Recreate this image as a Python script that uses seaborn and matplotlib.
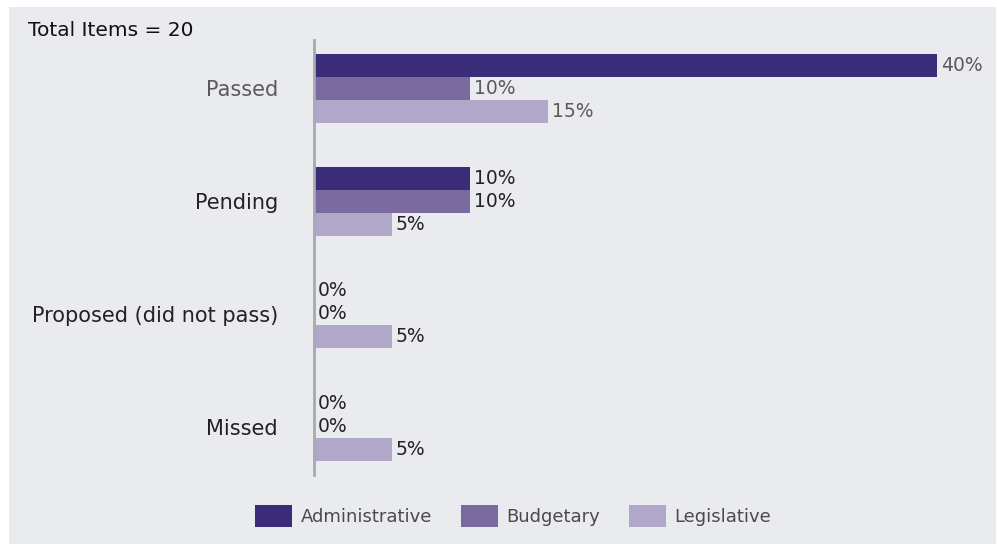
import matplotlib
matplotlib.use("Agg")
import matplotlib.pyplot as plt
from matplotlib.patches import Rectangle, Patch
import seaborn as sns
import pandas as pd

# Data
statuses = ["Passed", "Pending", "Proposed (did not pass)", "Missed"]
item_types = ["Administrative", "Budgetary", "Legislative"]
administrative = [40, 10, 0, 0]
budgetary = [10, 10, 0, 0]
legislative = [15, 5, 5, 5]
total_items = 20

colors = ["#3A2C78", "#7A6A9F", "#B1A8C9"]
bg = "#EAEBEF"
font = "DejaVu Sans"

rows = []
for t, vals in zip(item_types, [administrative, budgetary, legislative]):
    for s, v in zip(statuses, vals):
        rows.append({"Status": s, "Type": t, "Percent": v})
df = pd.DataFrame(rows)

sns.set_theme(style="white")
plt.rcParams["font.family"] = [font]

fig = plt.figure(figsize=(9.97, 5.44), dpi=100)
fig.patch.set_facecolor("white")
# light panel behind the chart
fig.patches.append(Rectangle((9 / 997, 0), 987 / 997, 537 / 544,
                             transform=fig.transFigure, facecolor=bg,
                             edgecolor="none", zorder=-10))

ax = fig.add_axes([314 / 997, 69 / 544, 676 / 997, 435 / 544])
ax.set_facecolor("none")

sns.barplot(data=df, y="Status", x="Percent", hue="Type", order=statuses,
            hue_order=item_types, palette=colors, orient="h", width=0.61,
            gap=0, saturation=1, errorbar=None, legend=False, linewidth=0,
            ax=ax)

ax.set_xlim(0, 676 / 15.575)
ax.set_ylim(3.43, -0.43)
ax.set_xlabel("")
ax.set_ylabel("")
ax.set_xticks([])
for side in ["top", "right", "bottom"]:
    ax.spines[side].set_visible(False)
ax.spines["left"].set_color("#A3AAB5")
ax.spines["left"].set_linewidth(2)

ax.tick_params(axis="y", length=0, pad=26, labelsize=15)
label_colors = ["#5A5A5A", "#222222", "#222222", "#222222"]
for lbl, c in zip(ax.get_yticklabels(), label_colors):
    lbl.set_color(c)

for cont in ax.containers:
    texts = ax.bar_label(cont, fmt="%g%%", padding=3, fontsize=13.5,
                         family=font)
    for t, c in zip(texts, label_colors):
        t.set_color(c)

fig.text(28 / 997, 1 - 31 / 544, f"Total Items = {total_items}", fontsize=14.5,
         color="#111111", va="center", ha="left")

handles = [Patch(facecolor=c, edgecolor="none") for c in colors]
leg = fig.legend(handles, item_types, loc="center", ncol=3, frameon=False,
                 bbox_to_anchor=(513 / 997, 28 / 544), fontsize=13,
                 handlelength=2.05, handleheight=1.45, handletextpad=0.45,
                 columnspacing=1.6)
for t in leg.get_texts():
    t.set_color("#4A4A4A")

fig.savefig("out.png", dpi=100, facecolor=fig.get_facecolor())
